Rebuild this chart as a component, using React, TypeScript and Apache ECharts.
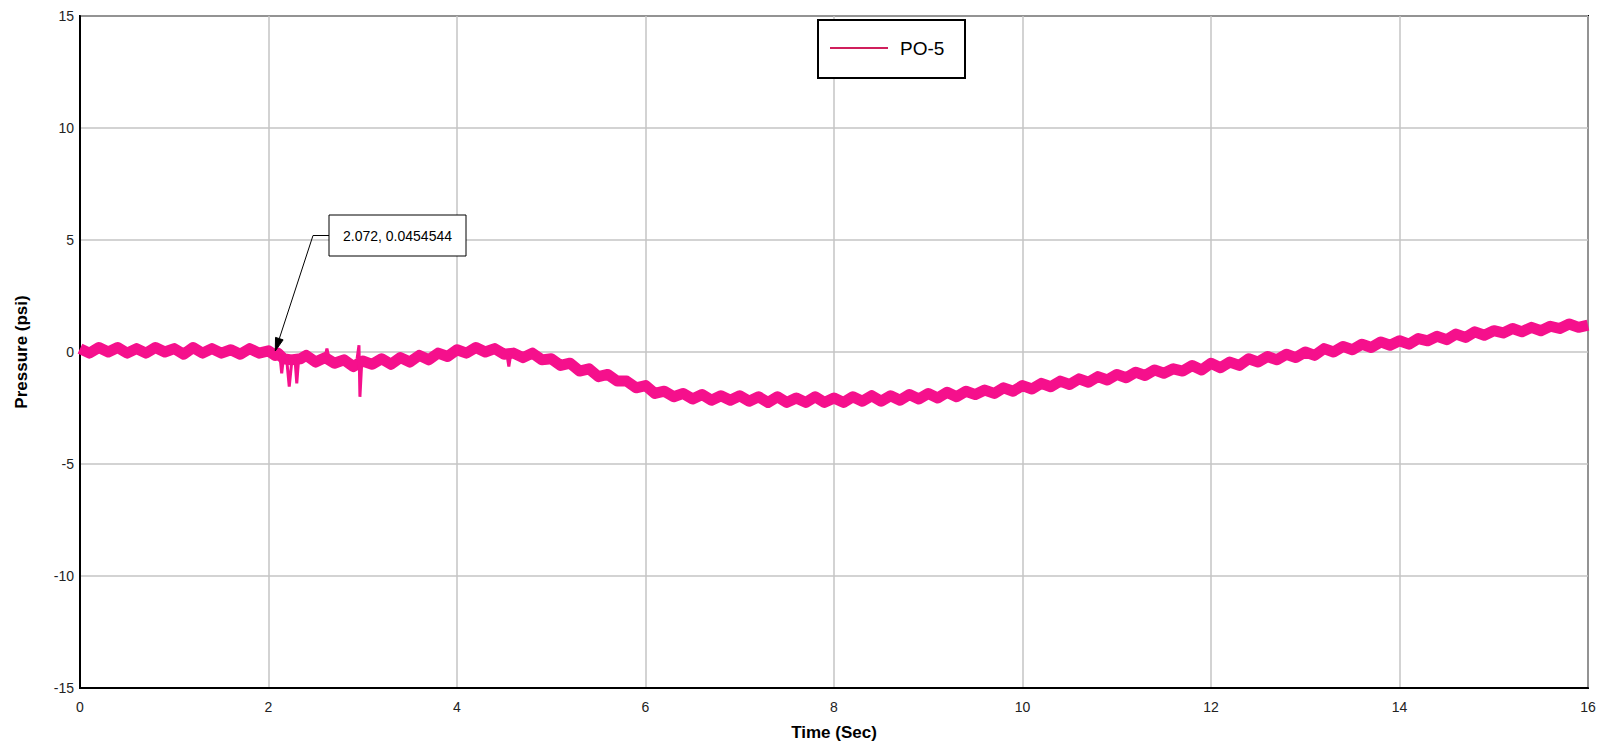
import React, { useEffect, useRef } from "react";
import * as echarts from "echarts";

const seriesName = "PO-5";
const xTicks = [0, 2, 4, 6, 8, 10, 12, 14, 16];
const yTicks = [-15, -10, -5, 0, 5, 10, 15];
const annotationPoint = [2.072, 0.0454544];
const annotationLabel = "2.072, 0.0454544";

// [time (s), pressure (psi)] (the noisy band)
const pressure: number[][] = [
  [0.0, 0.15], [0.1, -0.05], [0.2, 0.2], [0.3, 0.0], [0.4, 0.2], [0.5, -0.05], [0.6, 0.15], [0.7, -0.05], [0.8, 0.2], [0.9, 0.0],
  [1.0, 0.15], [1.1, -0.1], [1.2, 0.2], [1.3, -0.05], [1.4, 0.15], [1.5, -0.05], [1.6, 0.1], [1.7, -0.1], [1.8, 0.15], [1.9, -0.05],
  [2.0, 0.05], [2.07, -0.15], [2.1, -0.05], [2.16, -0.3], [2.24, -0.35], [2.34, -0.3],
  [2.4, -0.15], [2.5, -0.45], [2.6, -0.25], [2.7, -0.5], [2.8, -0.35], [2.9, -0.65], [3.0, -0.4],
  [3.1, -0.55], [3.2, -0.3], [3.3, -0.55], [3.4, -0.25], [3.5, -0.45], [3.6, -0.15], [3.7, -0.35],
  [3.8, -0.05], [3.9, -0.2], [4.0, 0.1], [4.1, -0.05], [4.2, 0.2], [4.3, 0.0], [4.4, 0.15], [4.5, -0.1], [4.6, -0.05],
  [4.7, -0.25], [4.8, -0.05], [4.9, -0.35], [5.0, -0.3], [5.1, -0.6], [5.2, -0.5], [5.3, -0.85], [5.4, -0.75], [5.5, -1.1],
  [5.6, -1.0], [5.7, -1.3], [5.8, -1.3], [5.9, -1.6], [6.0, -1.5], [6.1, -1.85], [6.2, -1.75], [6.3, -2.0], [6.4, -1.85],
  [6.5, -2.1], [6.6, -1.9], [6.7, -2.15], [6.8, -1.95], [6.9, -2.15], [7.0, -1.95], [7.1, -2.2], [7.2, -2.0], [7.3, -2.25],
  [7.4, -2.0], [7.5, -2.25], [7.6, -2.05], [7.7, -2.25], [7.8, -2.0], [7.9, -2.25], [8.0, -2.05], [8.1, -2.25], [8.2, -2.0],
  [8.3, -2.2], [8.4, -1.95], [8.5, -2.2], [8.6, -1.95], [8.7, -2.15], [8.8, -1.9], [8.9, -2.1], [9.0, -1.85], [9.1, -2.05],
  [9.2, -1.8], [9.3, -2.0], [9.4, -1.75], [9.5, -1.9], [9.6, -1.7], [9.7, -1.85], [9.8, -1.6], [9.9, -1.75], [10.0, -1.5],
  [10.1, -1.65], [10.2, -1.4], [10.3, -1.55], [10.4, -1.3], [10.5, -1.45], [10.6, -1.2], [10.7, -1.35], [10.8, -1.1], [10.9, -1.25],
  [11.0, -1.0], [11.1, -1.15], [11.2, -0.9], [11.3, -1.05], [11.4, -0.8], [11.5, -0.95], [11.6, -0.75], [11.7, -0.85], [11.8, -0.6],
  [11.9, -0.8], [12.0, -0.5], [12.1, -0.7], [12.2, -0.45], [12.3, -0.6], [12.4, -0.3], [12.5, -0.45], [12.6, -0.2], [12.7, -0.35],
  [12.8, -0.1], [12.9, -0.25], [13.0, 0.0], [13.1, -0.15], [13.2, 0.15], [13.3, 0.0], [13.4, 0.25], [13.5, 0.1], [13.6, 0.35],
  [13.7, 0.2], [13.8, 0.45], [13.9, 0.3], [14.0, 0.5], [14.1, 0.35], [14.2, 0.6], [14.3, 0.5], [14.4, 0.7], [14.5, 0.55],
  [14.6, 0.8], [14.7, 0.65], [14.8, 0.9], [14.9, 0.75], [15.0, 0.95], [15.1, 0.85], [15.2, 1.05], [15.3, 0.9], [15.4, 1.1],
  [15.5, 0.95], [15.6, 1.15], [15.7, 1.05], [15.8, 1.25], [15.9, 1.1], [16.0, 1.2],
];

// narrow spikes that stick out of the band (null breaks the line)
const spikes: (number | null)[][] = [
  [2.12, -0.1], [2.14, -0.95], [2.16, -0.2], [2.17, null],
  [2.19, -0.2], [2.22, -1.55], [2.25, -0.3], [2.26, null],
  [2.28, -0.25], [2.3, -1.4], [2.32, -0.3], [2.33, null],
  [2.6, -0.2], [2.62, 0.15], [2.64, -0.25], [2.65, null],
  [2.94, -0.3], [2.96, 0.3], [2.97, -2.0], [2.99, -0.4], [3.0, null],
  [4.53, -0.1], [4.55, -0.65], [4.57, -0.1],
];

const LINE_COLOR = "#f5108c";
const FONT = "'Liberation Sans', Arial, sans-serif";

export default function App() {
  const ref = useRef<HTMLDivElement>(null);

  useEffect(() => {
    if (!ref.current) return;
    const chart = echarts.init(ref.current, null, { renderer: "svg" });
    const option: any = {
      animation: false,
      backgroundColor: "#ffffff",
      grid: {
        left: 80,
        right: 16,
        top: 16,
        bottom: 61,
        show: true,
        borderColor: "#000",
        borderWidth: 2,
        backgroundColor: "transparent",
      },
      xAxis: {
        type: "value",
        min: xTicks[0],
        max: xTicks[xTicks.length - 1],
        interval: 2,
        name: "Time (Sec)",
        nameLocation: "middle",
        nameGap: 36,
        nameTextStyle: { fontFamily: FONT, fontSize: 17, fontWeight: "bold", color: "#000" },
        axisLine: { show: true, onZero: false, lineStyle: { color: "#000", width: 2 } },
        axisTick: { show: false },
        axisLabel: { fontFamily: FONT, fontSize: 14, color: "#222", margin: 12 },
        splitLine: { show: true, lineStyle: { color: "#c4c4c4", width: 1.5 } },
      },
      yAxis: {
        type: "value",
        min: yTicks[0],
        max: yTicks[yTicks.length - 1],
        interval: 5,
        name: "Pressure (psi)",
        nameLocation: "middle",
        nameGap: 50,
        nameRotate: 90,
        nameTextStyle: { fontFamily: FONT, fontSize: 17, fontWeight: "bold", color: "#000" },
        axisLine: { show: true, onZero: false, lineStyle: { color: "#000", width: 2 } },
        axisTick: { show: false },
        axisLabel: { fontFamily: FONT, fontSize: 14, color: "#222", margin: 6 },
        splitLine: { show: true, lineStyle: { color: "#c4c4c4", width: 1.5 } },
      },
      series: [
        {
          name: seriesName,
          type: "line",
          data: pressure,
          showSymbol: false,
          symbol: "none",
          lineStyle: { color: LINE_COLOR, width: 11, join: "round" },
          itemStyle: { color: LINE_COLOR },
          z: 3,
        },
        {
          name: seriesName + " spikes",
          type: "line",
          data: spikes,
          showSymbol: false,
          symbol: "none",
          connectNulls: false,
          lineStyle: { color: LINE_COLOR, width: 3 },
          itemStyle: { color: LINE_COLOR },
          z: 3,
        },
      ],
    };
    chart.setOption(option);

    const tip = chart.convertToPixel({ gridIndex: 0 }, annotationPoint) as number[];
    const boxX = 329, boxY = 215, boxW = 137, boxH = 41;
    const elbow = [313, boxY + boxH / 2];
    const dx = tip[0] - elbow[0];
    const dy = tip[1] - elbow[1];
    const len = Math.sqrt(dx * dx + dy * dy);
    const ux = dx / len, uy = dy / len;
    const headL = 13, headW = 4;
    const base = [tip[0] - ux * headL, tip[1] - uy * headL];
    const px = -uy, py = ux;

    chart.setOption({
      graphic: [
        // legend
        {
          type: "rect",
          shape: { x: 818, y: 20, width: 147, height: 58 },
          style: { fill: "#fff", stroke: "#000", lineWidth: 2 },
          z: 100,
        },
        {
          type: "line",
          shape: { x1: 830, y1: 48, x2: 888, y2: 48 },
          style: { stroke: "#d01f5c", lineWidth: 2 },
          z: 101,
        },
        {
          type: "text",
          x: 900,
          y: 48,
          style: { text: seriesName, fontFamily: FONT, fontSize: 19, fill: "#000", verticalAlign: "middle" },
          z: 101,
        },
        // annotation
        {
          type: "polyline",
          shape: { points: [[boxX, elbow[1]], elbow, base] },
          style: { stroke: "#000", lineWidth: 1, fill: null },
          z: 100,
        },
        {
          type: "polygon",
          shape: {
            points: [
              tip,
              [base[0] + px * headW, base[1] + py * headW],
              [base[0] - px * headW, base[1] - py * headW],
            ],
          },
          style: { fill: "#000", stroke: "#000", lineWidth: 1 },
          z: 100,
        },
        {
          type: "rect",
          shape: { x: boxX, y: boxY, width: boxW, height: boxH },
          style: { fill: "#fff", stroke: "#000", lineWidth: 1 },
          z: 100,
        },
        {
          type: "text",
          x: boxX + boxW / 2,
          y: boxY + boxH / 2,
          style: {
            text: annotationLabel,
            fontFamily: FONT,
            fontSize: 14,
            fill: "#000",
            align: "center",
            verticalAlign: "middle",
          },
          z: 101,
        },
      ],
    });

    return () => chart.dispose();
  }, []);

  return (
    <div
      ref={ref}
      style={{ position: "fixed", left: 0, top: 0, width: 1604, height: 749, background: "#fff" }}
    />
  );
}
